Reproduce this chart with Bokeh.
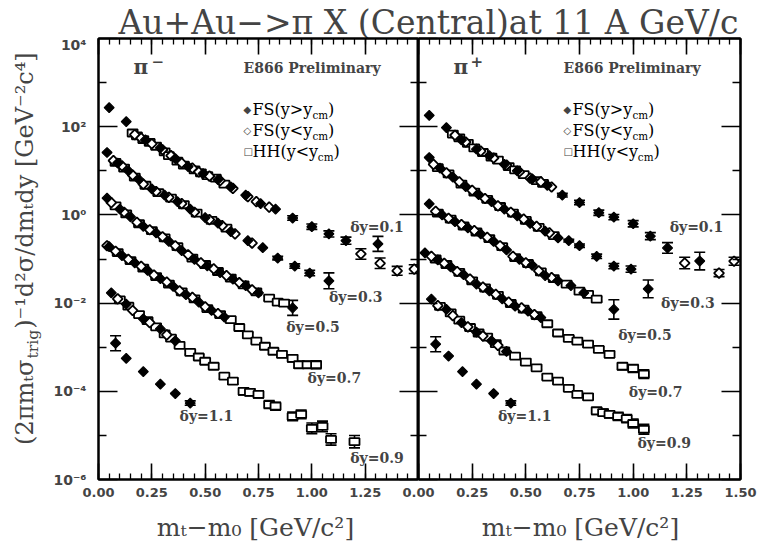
import math

from bokeh.embed import file_html
from bokeh.layouts import column, row
from bokeh.models import (ColumnDataSource, CustomJSTickFormatter, FixedTicker, Label,
                          LinearAxis, LogAxis, NumeralTickFormatter, Range1d, TeeHead, Whisker)
from bokeh.plotting import figure
from bokeh.resources import INLINE

# ---------------------------------------------------------------------------
# Spectra: (m_t - m_0 [GeV/c^2], yield [GeV^-2 c^4], data set, error half-width in decades)
# data set: "F" = FS(y>ycm), "B" = FS(y<ycm), "H" = HH(y<ycm)
# ---------------------------------------------------------------------------
pim_dy01 = [
    (0.05, 270, "F", 0), (0.13, 130, "F", 0), (0.16, 72, "H", 0), (0.17, 66, "B", 0), (0.18, 62, "H", 0),
    (0.20, 55, "B", 0), (0.21, 51, "H", 0), (0.22, 50, "F", 0), (0.24, 44, "H", 0), (0.25, 41, "B", 0),
    (0.27, 36, "H", 0), (0.29, 33, "F", 0), (0.30, 30, "B", 0), (0.31, 27, "H", 0), (0.33, 22, "H", 0),
    (0.34, 22, "B", 0), (0.36, 19, "F", 0), (0.37, 16.5, "H", 0), (0.39, 15, "B", 0), (0.40, 13.5, "H", 0),
    (0.42, 12.5, "F", 0), (0.44, 11.5, "B", 0), (0.45, 10.5, "H", 0), (0.47, 9.4, "B", 0), (0.48, 9.0, "H", 0),
    (0.49, 8.6, "F", 0), (0.51, 7.8, "H", 0), (0.52, 7.6, "B", 0), (0.55, 6.8, "H", 0), (0.56, 6.3, "F", 0),
    (0.57, 6.0, "B", 0), (0.59, 5.0, "H", 0), (0.62, 4.3, "F", 0), (0.63, 4.0, "B", 0), (0.69, 2.8, "F", 0),
    (0.70, 2.6, "B", 0), (0.74, 2.0, "B", 0), (0.76, 1.8, "F", 0), (0.80, 1.5, "B", 0), (0.83, 1.35, "F", 0),
    (0.91, 0.85, "F", 0.05), (1.00, 0.54, "F", 0.06), (1.08, 0.37, "F", 0.07), (1.16, 0.26, "F", 0.08),
    (1.23, 0.13, "B", 0.12), (1.31, 0.22, "F", 0.17), (1.32, 0.08, "B", 0.12), (1.40, 0.054, "B", 0.1),
    (1.48, 0.059, "B", 0.1),
]
pim_dy03 = [
    (0.04, 26, "F", 0), (0.07, 17, "B", 0), (0.08, 15.5, "H", 0), (0.09, 15, "F", 0), (0.11, 13, "B", 0),
    (0.12, 11.5, "H", 0), (0.14, 10, "F", 0), (0.16, 8.0, "B", 0), (0.17, 7.2, "H", 0), (0.19, 6.3, "F", 0),
    (0.21, 5.0, "B", 0), (0.22, 4.7, "H", 0), (0.25, 3.9, "F", 0), (0.27, 3.4, "B", 0), (0.28, 3.2, "H", 0),
    (0.31, 2.8, "F", 0), (0.33, 2.5, "B", 0), (0.34, 2.4, "H", 0), (0.37, 2.0, "F", 0), (0.39, 1.8, "B", 0),
    (0.40, 1.7, "H", 0), (0.43, 1.35, "F", 0), (0.45, 1.15, "B", 0), (0.46, 1.1, "H", 0), (0.50, 0.87, "F", 0),
    (0.52, 0.78, "B", 0), (0.53, 0.75, "H", 0), (0.56, 0.65, "F", 0), (0.58, 0.57, "B", 0), (0.60, 0.50, "H", 0),
    (0.62, 0.42, "F", 0), (0.64, 0.37, "B", 0), (0.70, 0.26, "F", 0), (0.72, 0.23, "B", 0), (0.77, 0.18, "F", 0),
    (0.84, 0.105, "F", 0.04), (0.92, 0.069, "F", 0.05), (0.99, 0.048, "F", 0.06), (1.08, 0.032, "F", 0.18),
]
pim_dy05 = [
    (0.04, 2.4, "F", 0), (0.06, 1.9, "B", 0), (0.08, 1.6, "H", 0), (0.10, 1.35, "F", 0), (0.12, 1.15, "B", 0),
    (0.13, 1.05, "H", 0), (0.15, 0.9, "F", 0), (0.18, 0.68, "B", 0), (0.19, 0.63, "H", 0), (0.21, 0.55, "F", 0),
    (0.24, 0.46, "B", 0), (0.25, 0.44, "H", 0), (0.27, 0.39, "F", 0), (0.30, 0.32, "B", 0), (0.31, 0.30, "H", 0),
    (0.33, 0.25, "F", 0), (0.36, 0.20, "B", 0), (0.37, 0.19, "H", 0), (0.39, 0.155, "F", 0), (0.42, 0.125, "B", 0),
    (0.44, 0.105, "H", 0), (0.45, 0.098, "F", 0), (0.48, 0.082, "B", 0), (0.50, 0.075, "H", 0), (0.51, 0.070, "F", 0),
    (0.54, 0.060, "B", 0), (0.56, 0.052, "H", 0), (0.57, 0.049, "F", 0), (0.60, 0.042, "B", 0), (0.62, 0.037, "H", 0),
    (0.63, 0.035, "F", 0), (0.66, 0.029, "B", 0), (0.68, 0.026, "H", 0), (0.69, 0.025, "F", 0), (0.72, 0.020, "B", 0),
    (0.74, 0.018, "H", 0), (0.75, 0.017, "F", 0), (0.80, 0.013, "H", 0.05), (0.84, 0.0105, "H", 0.06),
    (0.87, 0.0100, "H", 0.07), (0.91, 0.0078, "F", 0.17),
]
pim_dy07 = [
    (0.04, 0.20, "B", 0), (0.05, 0.19, "F", 0), (0.08, 0.15, "B", 0), (0.09, 0.14, "H", 0), (0.11, 0.12, "F", 0),
    (0.14, 0.098, "B", 0), (0.15, 0.092, "H", 0), (0.17, 0.082, "F", 0), (0.20, 0.068, "B", 0), (0.21, 0.062, "H", 0),
    (0.23, 0.055, "F", 0), (0.26, 0.043, "B", 0), (0.27, 0.040, "H", 0), (0.29, 0.036, "F", 0), (0.32, 0.030, "B", 0),
    (0.33, 0.027, "H", 0), (0.35, 0.024, "F", 0), (0.38, 0.019, "B", 0), (0.39, 0.018, "H", 0), (0.41, 0.0155, "F", 0),
    (0.44, 0.0135, "B", 0), (0.45, 0.0125, "H", 0), (0.47, 0.0105, "F", 0), (0.50, 0.0082, "B", 0), (0.51, 0.0075, "H", 0),
    (0.53, 0.0068, "F", 0), (0.56, 0.0058, "B", 0), (0.57, 0.0055, "H", 0), (0.59, 0.0048, "F", 0), (0.62, 0.0042, "H", 0),
    (0.66, 0.0028, "H", 0.04), (0.70, 0.0019, "H", 0.05), (0.74, 0.00138, "H", 0.05), (0.78, 0.00105, "H", 0.06),
    (0.82, 0.00081, "H", 0.06), (0.86, 0.00069, "H", 0.07), (0.91, 0.00056, "H", 0.08), (0.94, 0.00040, "H", 0.08),
    (0.98, 0.00040, "H", 0.08), (1.02, 0.00040, "H", 0.09),
]
pim_dy09 = [
    (0.06, 0.017, "F", 0), (0.09, 0.0125, "B", 0), (0.10, 0.0118, "H", 0), (0.13, 0.0095, "F", 0), (0.14, 0.0085, "H", 0),
    (0.16, 0.0068, "B", 0), (0.19, 0.0055, "H", 0), (0.21, 0.0044, "F", 0), (0.23, 0.0040, "H", 0), (0.24, 0.0036, "B", 0),
    (0.27, 0.0029, "H", 0), (0.29, 0.0026, "F", 0), (0.31, 0.0020, "H", 0), (0.32, 0.0019, "B", 0), (0.34, 0.0016, "H", 0),
    (0.36, 0.0014, "F", 0), (0.38, 0.0011, "H", 0), (0.43, 0.00076, "H", 0.04), (0.47, 0.00060, "H", 0.05),
    (0.50, 0.00048, "H", 0.05), (0.54, 0.00037, "H", 0.05), (0.59, 0.00022, "H", 0.06), (0.63, 0.00017, "H", 0.07),
    (0.68, 1.0e-4, "H", 0.08), (0.71, 9.5e-5, "H", 0.08), (0.75, 8.5e-5, "H", 0.08), (0.80, 5.0e-5, "H", 0.09),
    (0.83, 4.6e-5, "H", 0.09), (0.91, 2.7e-5, "H", 0.1), (0.95, 3.0e-5, "H", 0.1), (1.00, 1.45e-5, "H", 0.12),
    (1.05, 1.6e-5, "H", 0.12), (1.09, 8.1e-6, "H", 0.13), (1.20, 7.2e-6, "H", 0.14),
]
pim_dy11 = [
    (0.08, 1.23e-3, "F", 0.17), (0.13, 5.6e-4, "F", 0), (0.21, 2.8e-4, "F", 0), (0.29, 1.45e-4, "F", 0),
    (0.36, 8.9e-5, "F", 0), (0.43, 5.4e-5, "F", 0.05),
]

pip_dy01 = [
    (0.05, 180, "F", 0), (0.13, 95, "F", 0), (0.16, 68, "H", 0), (0.17, 64, "B", 0), (0.19, 56, "H", 0),
    (0.20, 50, "F", 0), (0.22, 45, "B", 0), (0.23, 42, "H", 0), (0.26, 33, "H", 0), (0.27, 31, "F", 0),
    (0.29, 28, "B", 0), (0.30, 26, "H", 0), (0.33, 22, "F", 0), (0.34, 20.5, "H", 0), (0.35, 19.5, "B", 0),
    (0.37, 17.5, "H", 0), (0.40, 14, "F", 0), (0.41, 13.5, "B", 0), (0.42, 12.5, "H", 0), (0.45, 10.5, "H", 0),
    (0.46, 10, "F", 0), (0.47, 9.5, "B", 0), (0.49, 8.2, "H", 0), (0.52, 6.8, "B", 0), (0.53, 6.6, "F", 0),
    (0.55, 6.0, "H", 0), (0.57, 5.6, "B", 0), (0.58, 5.2, "H", 0), (0.60, 4.7, "F", 0), (0.62, 4.3, "B", 0),
    (0.67, 2.8, "F", 0.04), (0.75, 1.9, "F", 0.05), (0.84, 1.12, "F", 0.06), (0.91, 0.89, "F", 0.06),
    (1.00, 0.63, "F", 0.07), (1.08, 0.33, "F", 0.08), (1.16, 0.178, "F", 0.12), (1.24, 0.081, "B", 0.13),
    (1.31, 0.090, "F", 0.2), (1.40, 0.048, "B", 0.08), (1.47, 0.089, "B", 0.09),
]
pip_dy03 = [
    (0.05, 20, "F", 0), (0.07, 14, "B", 0), (0.09, 11.8, "H", 0), (0.10, 11.5, "F", 0), (0.13, 9.0, "B", 0),
    (0.14, 8.5, "H", 0), (0.16, 7.2, "F", 0), (0.19, 5.6, "B", 0), (0.20, 5.0, "H", 0), (0.22, 4.4, "F", 0),
    (0.25, 3.6, "B", 0), (0.26, 3.3, "H", 0), (0.28, 2.9, "F", 0), (0.31, 2.35, "B", 0), (0.32, 2.25, "H", 0),
    (0.34, 2.0, "F", 0), (0.37, 1.6, "B", 0), (0.38, 1.55, "H", 0), (0.40, 1.35, "F", 0), (0.43, 1.15, "B", 0),
    (0.44, 1.1, "H", 0), (0.46, 0.95, "F", 0), (0.49, 0.80, "B", 0), (0.50, 0.75, "H", 0), (0.52, 0.64, "F", 0),
    (0.55, 0.55, "B", 0), (0.56, 0.52, "H", 0), (0.59, 0.43, "F", 0), (0.61, 0.39, "B", 0), (0.63, 0.34, "H", 0),
    (0.65, 0.30, "F", 0), (0.70, 0.26, "F", 0.03), (0.75, 0.20, "F", 0.04), (0.83, 0.115, "F", 0.05),
    (0.91, 0.069, "F", 0.06), (0.99, 0.059, "F", 0.07), (1.07, 0.021, "F", 0.2),
]
pip_dy05 = [
    (0.05, 1.78, "F", 0), (0.08, 1.2, "B", 0), (0.09, 1.1, "H", 0), (0.11, 1.0, "F", 0), (0.14, 0.84, "B", 0),
    (0.15, 0.80, "H", 0), (0.17, 0.70, "F", 0), (0.20, 0.60, "B", 0), (0.21, 0.56, "H", 0), (0.23, 0.51, "F", 0),
    (0.26, 0.44, "B", 0), (0.27, 0.41, "H", 0), (0.29, 0.37, "F", 0), (0.32, 0.31, "B", 0), (0.33, 0.29, "H", 0),
    (0.35, 0.25, "F", 0), (0.38, 0.20, "B", 0), (0.39, 0.19, "H", 0), (0.41, 0.16, "F", 0), (0.44, 0.115, "B", 0),
    (0.45, 0.108, "H", 0), (0.47, 0.098, "F", 0), (0.50, 0.082, "B", 0), (0.51, 0.079, "H", 0), (0.53, 0.072, "F", 0),
    (0.56, 0.054, "B", 0), (0.57, 0.051, "H", 0), (0.59, 0.042, "F", 0), (0.62, 0.038, "B", 0), (0.63, 0.036, "H", 0),
    (0.65, 0.032, "F", 0), (0.69, 0.027, "H", 0), (0.71, 0.025, "F", 0), (0.75, 0.0186, "H", 0.04),
    (0.77, 0.017, "F", 0), (0.79, 0.0158, "H", 0.05), (0.83, 0.0123, "H", 0.05), (0.91, 0.0072, "F", 0.22),
]
pip_dy07 = [
    (0.03, 0.138, "F", 0), (0.06, 0.115, "B", 0), (0.08, 0.10, "H", 0), (0.09, 0.095, "F", 0), (0.12, 0.080, "B", 0),
    (0.13, 0.075, "H", 0), (0.15, 0.066, "F", 0), (0.18, 0.052, "B", 0), (0.19, 0.050, "H", 0), (0.21, 0.044, "F", 0),
    (0.24, 0.035, "B", 0), (0.25, 0.032, "H", 0), (0.27, 0.027, "F", 0), (0.30, 0.023, "B", 0), (0.31, 0.022, "H", 0),
    (0.33, 0.019, "F", 0), (0.36, 0.0158, "B", 0), (0.37, 0.015, "H", 0), (0.39, 0.0125, "F", 0), (0.42, 0.0105, "B", 0),
    (0.43, 0.0098, "H", 0), (0.45, 0.0085, "F", 0), (0.48, 0.0078, "B", 0), (0.49, 0.0073, "H", 0), (0.51, 0.0066, "F", 0),
    (0.54, 0.0055, "B", 0), (0.55, 0.0052, "H", 0), (0.57, 0.0047, "F", 0), (0.60, 0.0034, "H", 0.04),
    (0.65, 0.0021, "H", 0.05), (0.70, 0.00158, "H", 0.05), (0.74, 0.00138, "H", 0.05), (0.79, 0.00117, "H", 0.06),
    (0.84, 0.00089, "H", 0.06), (0.89, 0.00069, "H", 0.07), (0.95, 0.00037, "H", 0.08), (1.00, 0.00033, "H", 0.09),
    (1.05, 0.000245, "H", 0.1),
]
pip_dy09 = [
    (0.06, 0.0123, "F", 0), (0.09, 0.0088, "B", 0), (0.10, 0.0084, "H", 0), (0.13, 0.0072, "F", 0), (0.15, 0.0060, "H", 0),
    (0.16, 0.0052, "B", 0), (0.19, 0.0041, "H", 0), (0.20, 0.0036, "F", 0), (0.23, 0.0029, "B", 0), (0.24, 0.0028, "H", 0),
    (0.27, 0.0022, "F", 0), (0.28, 0.0021, "H", 0), (0.30, 0.0018, "B", 0), (0.32, 0.0017, "H", 0), (0.34, 0.0014, "F", 0),
    (0.36, 0.0012, "H", 0), (0.37, 0.0011, "B", 0), (0.40, 0.00082, "H", 0), (0.41, 0.0008, "F", 0), (0.45, 0.00063, "H", 0),
    (0.50, 0.00046, "H", 0), (0.55, 0.00034, "H", 0.04), (0.60, 0.00021, "H", 0.05), (0.65, 0.00017, "H", 0.05),
    (0.70, 0.000117, "H", 0.06), (0.74, 8.5e-5, "H", 0.06), (0.79, 7.5e-5, "H", 0.07), (0.83, 3.6e-5, "H", 0.08),
    (0.86, 3.3e-5, "H", 0.08), (0.89, 3.0e-5, "H", 0.08), (0.93, 2.7e-5, "H", 0.09), (0.97, 2.4e-5, "H", 0.09),
    (1.00, 1.86e-5, "H", 0.1), (1.05, 1.38e-5, "H", 0.11),
]
pip_dy11 = [
    (0.08, 1.17e-3, "F", 0.17), (0.14, 6.3e-4, "F", 0), (0.205, 2.8e-4, "F", 0), (0.27, 1.45e-4, "F", 0),
    (0.35, 8.9e-5, "F", 0), (0.43, 5.4e-5, "F", 0.05),
]

DY_TEXT = ["δy=0.1", "δy=0.3", "δy=0.5", "δy=0.7", "δy=0.9", "δy=1.1"]
TITLE = "Au+Au−>π X (Central)at 11 A GeV/c"
X_TITLE = "mₜ−m₀ [GeV/c²]"

X_TICKS = [0.0, 0.25, 0.5, 0.75, 1.0, 1.25, 1.5]
Y_TICKS = [1e-6, 1e-4, 1e-2, 1e0, 1e2, 1e4]
Y_MINOR = [1e-5, 1e-3, 1e-1, 1e1, 1e3]
X_MINOR = [round(0.05 * i, 2) for i in range(31)]

# ---------------------------------------------------------------------------
# layout constants (pixels)
# ---------------------------------------------------------------------------
W, H = 759, 542
HEADER_H, HEADER_OVER = 42, 6     # title strip, overlapping the panels' top border
FOOTER_H, FOOTER_OVER = 45, 8     # x-axis title strip, overlapping the tick-label band
YSTRIP_W = 50                     # y-axis title strip
FRAME_TOP, FRAME_BOTTOM = 38, 479
PANEL_Y0 = HEADER_H - HEADER_OVER
PANEL_H = H - PANEL_Y0 - (FOOTER_H - FOOTER_OVER)
LEFT_FRAME_X0 = 95
LEFT_FRAME, RIGHT_FRAME, RIGHT_BORDER = 323, 322, 19
OVERLAP = 16                      # right panel canvas slides under the shared edge
DESC = 0.24                       # alphabetic-baseline correction, in em

SERIF = "DejaVu Serif"
SANS = "DejaVu Sans"

# text positions of the slice labels, in data units (m_t - m_0, yield)
PIM_DY_POS = [(1.18, 0.54), (1.08, 0.0138), (0.88, 2.8e-3), (0.98, 2.0e-4), (1.18, 3.0e-6), (0.38, 2.7e-5)]
PIP_DY_POS = [(1.17, 0.54), (1.13, 0.010), (0.93, 1.9e-3), (0.98, 9.5e-5), (1.02, 6.6e-6), (0.37, 2.7e-5)]

# approximate advance widths (em) of DejaVu Serif, used to chain subscript pieces
EM = {" ": 0.318, "(": 0.390, ")": 0.390, "/": 0.337, "<": 0.838, ">": 0.838, "F": 0.684,
      "H": 0.837, "S": 0.650, "c": 0.562, "g": 0.641, "i": 0.320, "m": 0.948, "r": 0.478,
      "t": 0.402, "y": 0.591}


def em_width(s):
    return sum(EM.get(c, 0.636) for c in s)


def rich_text(fig, pieces, x, y, size, style="normal", font=SERIF):
    """Chain (text, role) pieces along a horizontal baseline; role n=normal, b=subscript."""
    adv = 0.0
    for txt, role in pieces:
        s = size if role == "n" else size * 0.65
        shift = (0.0 if role == "n" else -0.22 * size) + DESC * s
        fig.add_layout(Label(x=x + adv, y=y + shift, x_units="screen", y_units="screen",
                             text=txt, text_font=font, text_font_size=f"{s:.1f}px",
                             text_font_style=style, text_color="black", text_align="left",
                             text_baseline="alphabetic"))
        adv += em_width(txt) * s


def blank_formatter():
    return CustomJSTickFormatter(code="return '';")


def pow10_formatter():
    return CustomJSTickFormatter(code="""
const sup = {"-": "⁻", "0": "⁰", "1": "¹", "2": "²", "3": "³", "4": "⁴",
             "5": "⁵", "6": "⁶", "7": "⁷", "8": "⁸", "9": "⁹"};
const e = Math.round(Math.log10(tick));
return "10" + String(e).split("").map((c) => sup[c]).join("");
""")


def style_ticks(ax, major, minor):
    ax.major_tick_in = major
    ax.major_tick_out = 0
    ax.minor_tick_in = minor
    ax.minor_tick_out = 0
    ax.axis_line_width = 2
    ax.axis_line_color = "black"
    ax.major_tick_line_width = 1.6
    ax.minor_tick_line_width = 1.3
    ax.major_tick_line_color = "black"
    ax.minor_tick_line_color = "black"


def hide_labels(ax):
    ax.formatter = blank_formatter()
    ax.major_label_text_font_size = "0px"
    ax.major_label_standoff = 0


def strip(width, height):
    """Transparent canvas used for titles that sit outside the panels."""
    f = figure(width=width, height=height, x_range=Range1d(0, 1), y_range=Range1d(0, 1),
               x_axis_type=None, y_axis_type=None, toolbar_location=None,
               output_backend="svg", min_border=0, outline_line_color=None)
    f.border_fill_color = None
    f.background_fill_color = None
    return f


def make_panel(bands, dy_pos, border_l, frame_w, border_r, x_ticks, frame_x0, sign_text, sign_dx,
               y_labels):
    p = figure(width=border_l + frame_w + border_r, height=PANEL_H,
               x_range=Range1d(0, 1.5), y_range=Range1d(1e-6, 1e4), y_axis_type="log",
               output_backend="svg", toolbar_location=None,
               min_border_left=border_l, min_border_right=border_r,
               min_border_top=FRAME_TOP - PANEL_Y0,
               min_border_bottom=PANEL_Y0 + PANEL_H - FRAME_BOTTOM)
    p.xgrid.visible = False
    p.ygrid.visible = False
    p.outline_line_color = "black"
    p.outline_line_width = 2
    p.border_fill_color = None
    p.background_fill_color = None

    xb = p.xaxis[0]
    xb.ticker = FixedTicker(ticks=x_ticks, minor_ticks=X_MINOR)
    xb.formatter = NumeralTickFormatter(format="0.00")
    style_ticks(xb, 16, 6)
    xb.major_label_text_font = SANS
    xb.major_label_text_font_style = "bold"
    xb.major_label_text_font_size = "13px"
    xb.major_label_standoff = 8

    yl = p.yaxis[0]
    yl.ticker = FixedTicker(ticks=Y_TICKS, minor_ticks=Y_MINOR)
    style_ticks(yl, 19, 8)
    if y_labels:
        yl.formatter = pow10_formatter()
        yl.major_label_text_font = SANS
        yl.major_label_text_font_style = "bold"
        yl.major_label_text_font_size = "14px"
        yl.major_label_standoff = 12
    else:
        hide_labels(yl)

    top = LinearAxis(ticker=FixedTicker(ticks=X_TICKS, minor_ticks=X_MINOR))
    style_ticks(top, 16, 6)
    hide_labels(top)
    p.add_layout(top, "above")

    rgt = LogAxis(ticker=FixedTicker(ticks=Y_TICKS, minor_ticks=Y_MINOR))
    style_ticks(rgt, 19, 8)
    hide_labels(rgt)
    p.add_layout(rgt, "right")

    pts = [t for band in bands for t in band]

    def source(kind):
        sel = [t for t in pts if t[2] == kind]
        return ColumnDataSource(dict(mt=[t[0] for t in sel], v=[t[1] for t in sel]))

    p.rect("mt", "v", width=10, height=7, width_units="screen", height_units="screen",
           source=source("H"), fill_color="white", line_color="black", line_width=1.8)
    p.scatter("mt", "v", marker="square", size=7, angle=math.pi / 4, source=source("B"),
              fill_color="white", line_color="black", line_width=1.8)
    p.scatter("mt", "v", marker="square", size=7, angle=math.pi / 4, source=source("F"),
              fill_color="black", line_color="black", line_width=1.2)

    errs = [t for t in pts if t[3] > 0]
    esrc = ColumnDataSource(dict(mt=[t[0] for t in errs],
                                 lo=[t[1] / 10 ** t[3] for t in errs],
                                 hi=[t[1] * 10 ** t[3] for t in errs]))
    p.add_layout(Whisker(source=esrc, base="mt", lower="lo", upper="hi", dimension="height",
                         line_color="black", line_width=1.6,
                         upper_head=TeeHead(size=11, line_width=1.6),
                         lower_head=TeeHead(size=11, line_width=1.6)))

    for txt, (x, y) in zip(DY_TEXT, dy_pos):
        p.add_layout(Label(x=x, y=y, text=txt, text_font=SERIF, text_font_style="bold",
                           text_font_size="14px", text_align="left", text_baseline="middle"))

    # panel texts, positioned in pixels from the frame's lower-left corner
    def fx(X):
        return X - frame_x0

    def fy(Y):
        return FRAME_BOTTOM - Y

    p.add_layout(Label(x=fx(frame_x0 + 35), y=fy(78), x_units="screen", y_units="screen", text="π",
                       text_font=SERIF, text_font_style="bold", text_font_size="20px"))
    p.add_layout(Label(x=fx(frame_x0 + sign_dx), y=fy(66), x_units="screen", y_units="screen",
                       text=sign_text, text_font=SERIF, text_font_style="bold", text_font_size="15px"))
    p.add_layout(Label(x=fx(frame_x0 + 145), y=fy(75), x_units="screen", y_units="screen",
                       text="E866 Preliminary", text_font=SERIF, text_font_style="bold",
                       text_font_size="14px"))
    rows = [("◆", "FS(y>y", 113), ("◇", "FS(y<y", 134), ("□", "HH(y<y", 155)]
    for mark, main, base in rows:
        p.add_layout(Label(x=fx(frame_x0 + 145), y=fy(base - 4), x_units="screen", y_units="screen",
                           text=mark, text_font=SANS, text_font_size="10px", text_baseline="middle"))
        rich_text(p, [(main, "n"), ("cm", "b"), (")", "n")], fx(frame_x0 + 154), fy(base), 16)
    return p


left = make_panel([pim_dy01, pim_dy03, pim_dy05, pim_dy07, pim_dy09, pim_dy11], PIM_DY_POS,
                  LEFT_FRAME_X0 - YSTRIP_W, LEFT_FRAME, 0, X_TICKS[:-1], LEFT_FRAME_X0, "−", 53, True)
mid_x = LEFT_FRAME_X0 + LEFT_FRAME
right = make_panel([pip_dy01, pip_dy03, pip_dy05, pip_dy07, pip_dy09, pip_dy11], PIP_DY_POS,
                   OVERLAP, RIGHT_FRAME, RIGHT_BORDER, X_TICKS, mid_x, "+", 52, False)
right.styles = {"margin-left": f"-{OVERLAP}px"}

# rotated y-axis title, reading upwards; "trig" is set as a true subscript
ystrip = strip(YSTRIP_W, PANEL_H)
Y_SIZE = 24
y_split = PANEL_Y0 + PANEL_H - 385          # where the subscript begins
trig_len = em_width("trig") * Y_SIZE * 0.65
for txt, yy, xx, size, align in [
        ("(2πmₜσ", y_split, 24, Y_SIZE, "right"),
        ("trig", y_split + 1, 32, Y_SIZE * 0.65, "left"),
        (")⁻¹d²σ/dmₜdy [GeV⁻²c⁴]", y_split + trig_len + 2, 24, Y_SIZE, "left")]:
    ystrip.add_layout(Label(x=xx, y=yy, x_units="screen", y_units="screen", text=txt,
                            angle=math.pi / 2, text_font=SERIF, text_font_size=f"{size:.1f}px",
                            text_align=align, text_baseline="middle"))

# x-axis titles under each panel
footer = strip(W, FOOTER_H)
footer.styles = {"margin-top": f"-{FOOTER_OVER}px"}
for centre in (255, 580):
    footer.add_layout(Label(x=centre, y=H - 527, x_units="screen", y_units="screen", text=X_TITLE,
                            text_font=SERIF, text_font_size="25px", text_align="center",
                            text_baseline="middle"))

head = strip(W, HEADER_H)
head.styles = {"margin-bottom": f"-{HEADER_OVER}px"}
head.add_layout(Label(x=118, y=HEADER_H - 30 + DESC * 33, x_units="screen", y_units="screen",
                      text=TITLE, text_font=SERIF, text_font_size="33px",
                      text_baseline="alphabetic"))

page = column(head, row(ystrip, left, right), footer)
open("out.html", "w").write(file_html(page, INLINE))
